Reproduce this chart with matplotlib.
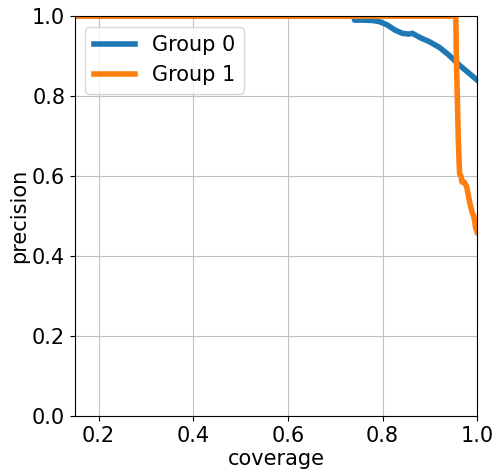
import numpy as np
import matplotlib
matplotlib.use("Agg")
import matplotlib.pyplot as plt

# precision vs coverage
cov_g0 = [0.15, 0.74, 0.741, 0.76, 0.78, 0.794, 0.81, 0.825, 0.842, 0.855, 0.863, 0.88, 0.899, 0.92, 0.941, 0.962, 0.98, 1.0]
prec_g0 = [1.0, 1.0, 0.99, 0.99, 0.989, 0.986, 0.978, 0.966, 0.957, 0.955, 0.957, 0.946, 0.936, 0.922, 0.902, 0.878, 0.86, 0.84]

cov_g1 = [0.15, 0.955, 0.956, 0.958, 0.96, 0.962, 0.963, 0.966, 0.968, 0.973, 0.978, 0.98, 0.985, 0.99, 0.993, 0.997, 1.0]
prec_g1 = [1.0, 1.0, 0.9, 0.8, 0.7, 0.63, 0.605, 0.6, 0.585, 0.585, 0.573, 0.56, 0.53, 0.507, 0.5, 0.47, 0.46]

labels = ["Group 0", "Group 1"]


def plot():
    plt.rcParams["font.size"] = 15
    fig = plt.figure(figsize=(4.96, 4.74), dpi=100)
    ax = fig.add_axes([0.151, 0.122, 0.811, 0.844])

    ax.plot(cov_g0, prec_g0, color="#1f77b4", linewidth=4, label=labels[0])
    ax.plot(cov_g1, prec_g1, color="#ff7f0e", linewidth=4, label=labels[1])

    ax.set_xlim(0.15, 1.0)
    ax.set_ylim(0.0, 1.0)
    ax.set_xticks([0.2, 0.4, 0.6, 0.8, 1.0])
    ax.set_yticks([0.0, 0.2, 0.4, 0.6, 0.8, 1.0])
    ax.set_xlabel("coverage", labelpad=2)
    ax.set_ylabel("precision", labelpad=2)
    ax.grid(True, color="#c0c0c0", linewidth=0.8)
    ax.legend(loc="upper left")
    return fig


def main():
    plot()
    plt.savefig("out.png", dpi=100)


if __name__ == "__main__":
    main()
